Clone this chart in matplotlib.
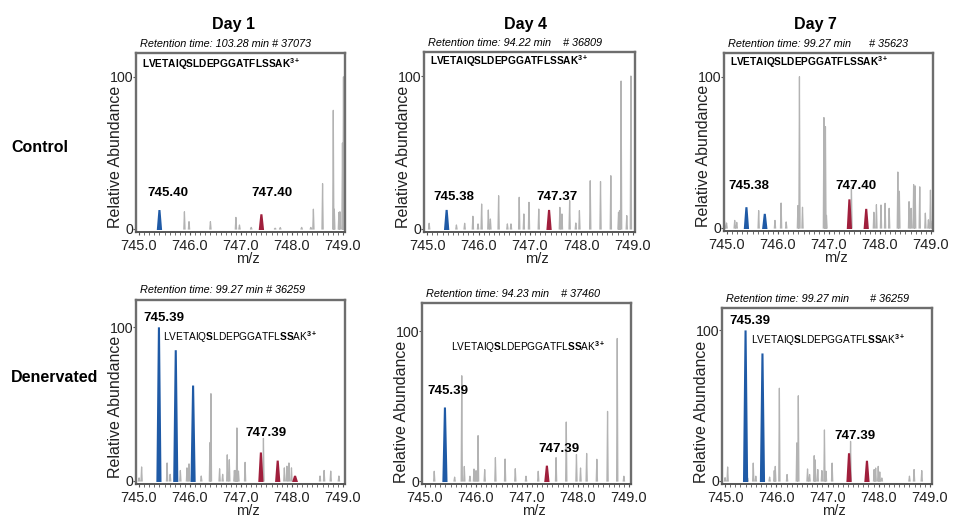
import matplotlib
matplotlib.use('Agg')
import matplotlib.pyplot as plt
import numpy as np
from matplotlib import font_manager
from matplotlib.ticker import MultipleLocator, FixedLocator

# ---------------- data ----------------
col_titles = ['Day 1', 'Day 4', 'Day 7']
row_titles = ['Control', 'Denervated']
x_ticks = [745.0, 746.0, 747.0, 748.0, 749.0]
peptide = r'LVETAIQ$\mathbf{S}$LDEPGGATFL$\mathbf{SS}$AK$^{\mathbf{3+}}$'

retention = ['Retention time: 103.28 min # 37073',
             'Retention time: 94.22 min    # 36809',
             'Retention time: 99.27 min      # 35623',
             'Retention time: 99.27 min # 36259',
             'Retention time: 94.23 min    # 37460',
             'Retention time: 99.27 min       # 36259']

peak_labels = [('745.40', '747.40'), ('745.38', '747.37'), ('745.38', '747.40'),
               ('745.39', '747.39'), ('745.39', '747.39'), ('745.39', '747.39')]

# Control, Day 1
c1_mz = [745.89, 745.98, 746.40, 746.90, 746.97, 747.20, 747.67, 747.77, 748.19, 748.37,
         748.42, 748.60, 748.81, 748.83, 748.92, 748.94, 748.99, 749.01]
c1_int = [11.3, 4.8, 4.8, 7.6, 2.6, 1.0, 0.5, 0.9, 1.0, 1.0,
          13.0, 29.8, 78.0, 13.0, 10.9, 11.3, 56.5, 100.0]
c1_blue_mz, c1_blue_int = [745.40], [12.4]
c1_red_mz, c1_red_int = [747.40], [9.6]

# Control, Day 4
c4_mz = [745.04, 745.57, 745.73, 745.89, 745.99, 746.06, 746.19, 746.23, 746.39, 746.56,
         746.63, 746.79, 746.88, 746.98, 747.17, 747.58, 747.62, 747.77, 747.89, 747.96,
         748.17, 748.37, 748.57, 748.72, 748.74, 748.77, 748.88, 748.96]
c4_int = [3.7, 2.6, 3.7, 8.3, 3.3, 16.3, 12.4, 6.5, 21.7, 3.3,
          3.3, 20.7, 9.8, 17.4, 13.0, 14.1, 9.8, 18.5, 3.9, 12.0,
          31.5, 31.0, 34.8, 10.9, 12.0, 96.7, 8.7, 100.0]
c4_blue_mz, c4_blue_int = [745.38], [12.4]
c4_red_mz, c4_red_int = [747.37], [12.4]

# Control, Day 7
c7_mz = [744.95, 744.99, 745.15, 745.19, 745.62, 745.94, 746.06, 746.16, 746.39, 746.42,
         746.48, 746.90, 746.93, 746.95, 747.44, 747.88, 747.93, 748.02, 748.10, 748.18,
         748.35, 748.38, 748.57, 748.61, 748.66, 748.69, 748.78, 748.89, 748.95, 748.99, 749.03]
c7_int = [4.3, 3.3, 5.0, 3.7, 11.5, 5.0, 16.5, 4.0, 14.8, 100.0,
          13.7, 73.0, 67.0, 8.3, 26.7, 10.4, 15.4, 15.2, 16.3, 13.0,
          37.0, 24.3, 17.4, 13.0, 28.7, 27.8, 27.2, 9.8, 5.4, 25.0, 4.8]
c7_blue_mz, c7_blue_int = [745.38, 745.74], [13.7, 9.3]
c7_red_mz, c7_red_int = [747.40, 747.73], [18.9, 12.6]

# Denervated, Day 1
d1_mz = [745.00, 745.05, 745.55, 745.61, 745.81, 745.94, 745.98, 746.22, 746.39, 746.41,
         746.58, 746.64, 746.73, 746.77, 746.87, 746.90, 746.92, 746.95, 747.08, 747.44,
         747.85, 747.90, 747.94, 747.99, 748.55, 748.63, 748.76, 748.92]
d1_int = [2.0, 9.1, 11.7, 4.3, 6.8, 8.5, 11.1, 3.2, 24.9, 56.8,
          7.9, 4.3, 17.0, 13.8, 6.8, 6.8, 34.5, 6.4, 12.1, 27.7,
          8.5, 9.6, 11.7, 8.5, 3.2, 6.8, 6.4, 3.2]
d1_blue_mz, d1_blue_int = [745.39, 745.72, 746.06], [100.0, 85.1, 62.1]
d1_red_mz, d1_red_int = [747.39, 747.72, 748.06], [18.5, 13.2, 3.2]

# Denervated, Day 4
d4_mz = [745.18, 745.58, 745.72, 745.77, 745.88, 745.96, 746.00, 746.04, 746.17, 746.38,
         746.57, 746.77, 746.98, 747.22, 747.57, 747.77, 747.97, 748.05, 748.17, 748.37,
         748.58, 748.77, 748.90]
d4_int = [6.5, 2.6, 70.3, 9.7, 3.2, 8.0, 6.9, 30.3, 7.6, 15.6,
          14.7, 8.2, 3.2, 6.5, 15.6, 39.4, 17.7, 8.7, 18.4, 14.5,
          46.5, 95.2, 3.2]
d4_blue_mz, d4_blue_int = [745.39], [49.1]
d4_red_mz, d4_red_int = [747.39], [10.2]

# Denervated, Day 7
d7_mz = [745.00, 745.05, 745.44, 745.55, 745.60, 745.87, 745.96, 745.98, 746.06, 746.21,
         746.40, 746.43, 746.61, 746.65, 746.74, 746.76, 746.81, 746.89, 746.94, 746.97,
         747.09, 747.45, 747.91, 747.94, 747.99, 748.02, 748.06, 748.60, 748.69, 748.84]
d7_int = [2.2, 9.3, 2.0, 11.9, 3.2, 2.6, 6.9, 9.7, 61.6, 4.3,
          25.3, 56.6, 8.0, 4.3, 16.8, 14.0, 7.6, 6.9, 33.9, 6.5,
          11.9, 26.3, 7.6, 8.6, 9.7, 6.0, 2.0, 3.2, 7.6, 6.9]
d7_blue_mz, d7_blue_int = [745.40, 745.73], [100.0, 84.7]
d7_red_mz, d7_red_int = [747.42, 747.77], [18.4, 13.4]

spectra = [
    (c1_mz, c1_int, c1_blue_mz, c1_blue_int, c1_red_mz, c1_red_int),
    (c4_mz, c4_int, c4_blue_mz, c4_blue_int, c4_red_mz, c4_red_int),
    (c7_mz, c7_int, c7_blue_mz, c7_blue_int, c7_red_mz, c7_red_int),
    (d1_mz, d1_int, d1_blue_mz, d1_blue_int, d1_red_mz, d1_red_int),
    (d4_mz, d4_int, d4_blue_mz, d4_blue_int, d4_red_mz, d4_red_int),
    (d7_mz, d7_int, d7_blue_mz, d7_blue_int, d7_red_mz, d7_red_int),
]

# ---------------- layout / style ----------------
def has_font(name):
    try:
        font_manager.findfont(font_manager.FontProperties(family=name), fallback_to_default=False)
        return True
    except Exception:
        return False

NARROW = 'Liberation Sans Narrow' if has_font('Liberation Sans Narrow') else 'Liberation Sans'

plt.rcParams['font.family'] = ['Liberation Sans', 'DejaVu Sans']
plt.rcParams['mathtext.fontset'] = 'custom'
plt.rcParams['mathtext.rm'] = 'Liberation Sans'
plt.rcParams['mathtext.it'] = 'Liberation Sans:italic'
plt.rcParams['mathtext.bf'] = 'Liberation Sans:bold'

W, H = 957, 519
fig = plt.figure(figsize=(W / 100, H / 100), dpi=100)

# axes boxes in pixels (left, top, right, bottom)
boxes = [(136, 53, 345, 232), (424, 52, 635, 232), (724, 53, 933, 231),
         (136, 300, 345, 484), (422, 303, 631, 484), (722, 308, 932, 484)]
ytops = [115.7, 115.7, 115.7, 117.8, 118.9, 114.9]
ylabel_y = [0.42, 0.42, 0.42, 0.42, 0.40, 0.41]
YBOT = -2.0
XLIM = (744.94, 749.04)
# label placements (x in data, y in data) for blue / red labels
label_pos = [((745.56, 20.0), (747.60, 20.0)),
             ((745.51, 17.0), (747.52, 17.0)),
             ((745.42, 24.0), (747.53, 24.0)),
             ((745.48, 102.0), (747.48, 27.0)),
             ((745.45, 56.0), (747.62, 17.5)),
             ((745.48, 102.0), (747.53, 26.0))]
pep_pos = [(0.03, 0.94), (0.03, 0.95), (0.03, 0.95),
           (0.13, 0.80), (0.14, 0.755), (0.14, 0.82)]

GRAY = '#b3b3b3'
BLUE = '#1f5aa6'
RED = '#a01f3c'
HW_GRAY = 0.012
HW_COL = 0.03


def profile(mz, inten, hw):
    xs, ys = [], []
    for m, h in zip(mz, inten):
        xs += [m - hw, m, m + hw, np.nan]
        ys += [0, h, 0, np.nan]
    return np.array(xs), np.array(ys)


for i, (box, spec) in enumerate(zip(boxes, spectra)):
    l, t, r, b = box
    ax = fig.add_axes([l / W, 1 - b / H, (r - l) / W, (b - t) / H])
    gmz, gint, bmz, bint, rmz, rint = spec
    gx, gy = profile(gmz, gint, HW_GRAY)
    ax.plot(gx, gy, color=GRAY, lw=0.9, zorder=2)
    for mzs, ints, col in ((bmz, bint, BLUE), (rmz, rint, RED)):
        for m, h in zip(mzs, ints):
            ax.fill([m - HW_COL, m, m + HW_COL], [0, h, 0], color=col, lw=1.5,
                    edgecolor=col, zorder=3)
    ax.set_xlim(*XLIM)
    ax.set_ylim(YBOT, ytops[i])

    # axes styling
    for side in ('top', 'right', 'left'):
        ax.spines[side].set_color('#6e6e6e')
        ax.spines[side].set_linewidth(1.7)
    ax.spines['bottom'].set_color('#555555')
    ax.spines['bottom'].set_linewidth(1.4)
    ax.xaxis.set_major_locator(FixedLocator(x_ticks))
    ax.xaxis.set_minor_locator(MultipleLocator(0.1))
    ax.set_xticklabels([f'{v:.1f}' for v in x_ticks])
    ax.tick_params(axis='x', which='major', length=2, width=0.8, pad=3,
                   labelsize=10.5, colors='#555555', labelcolor='#222222')
    ax.tick_params(axis='x', which='minor', length=2, width=0.6, colors='#555555')
    ax.set_yticks([0, 100])
    ax.set_yticklabels(['0', '100'])
    ax.tick_params(axis='y', length=2, width=0.8, pad=0, labelsize=10.2,
                   colors='#555555', labelcolor='#222222')
    ax.set_xlabel('m/z', fontsize=10.5, color='#222222')
    ax.xaxis.set_label_coords(0.535, -(20.0 / (b - t)))
    ax.set_ylabel('Relative Abundance', fontsize=11.5, color='#222222')
    ax.yaxis.set_label_coords(-0.063, ylabel_y[i])

    # peak labels
    (bl, rl) = peak_labels[i]
    (bx, by), (rx, ry) = label_pos[i]
    ax.text(bx, by, bl, ha='center', va='bottom', fontsize=9.5, fontweight='bold', zorder=5)
    ax.text(rx, ry, rl, ha='center', va='bottom', fontsize=9.5, fontweight='bold', zorder=5)

    # peptide
    px, py = pep_pos[i]
    ax.text(px, py, peptide, transform=ax.transAxes, ha='left', va='center',
            fontsize=7.3, fontweight='bold' if i < 3 else 'normal', zorder=5)

    # retention time
    ax.text(0.02, 1.052, retention[i], transform=ax.transAxes, ha='left', va='center',
            fontsize=7.8, style='italic', family=[NARROW, 'Liberation Sans'])

# column and row titles
for x, s in zip([233, 525, 815], col_titles):
    fig.text(x / W, 1 - 24 / H, s, ha='center', va='center', fontsize=11.5, fontweight='bold')
for y, s in zip([147, 378], row_titles):
    fig.text(11 / W, 1 - y / H, s, ha='left', va='center', fontsize=11.5, fontweight='bold')

fig.savefig('out.png', dpi=100)
